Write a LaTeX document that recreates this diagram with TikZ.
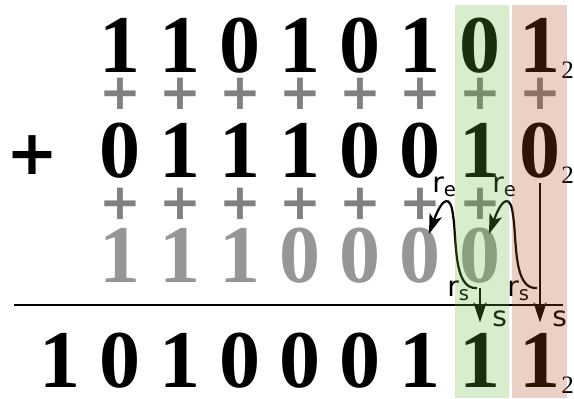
\documentclass[tikz,border=0pt]{standalone}
\usepackage{fontspec}
\usetikzlibrary{arrows.meta,positioning,calc}
\newfontfamily\digitfont{Liberation Serif}
\newfontfamily\labelfont{DejaVu Sans}
\definecolor{carrygray}{RGB}{150,150,150}
\definecolor{plusgray}{RGB}{128,128,128}
\definecolor{colgreen}{RGB}{100,185,62}
\definecolor{colred}{RGB}{177,77,31}
\tikzset{
  digit/.style = {inner sep=0pt, anchor=base, font=\digitfont\bfseries\fontsize{41}{44}\selectfont},
  carry/.style = {digit, text=carrygray},
  plus/.style = {inner sep=0pt, text=plusgray, font=\labelfont\bfseries\fontsize{25}{28}\selectfont},
  bigplus/.style = {inner sep=0pt, font=\labelfont\bfseries\fontsize{31}{34}\selectfont},
  radix/.style = {inner sep=0pt, anchor=base west, font=\digitfont\fontsize{12.5}{14}\selectfont},
  lbl/.style = {inner sep=0pt, anchor=base west, font=\labelfont\fontsize{14}{16}\selectfont},
  arrow/.style = {line width=1.1pt, -{Stealth[length=10pt, width=6.5pt, inset=2.5pt]}},
  rule/.style = {line width=1.4pt},
  column/.style = {fill opacity=0.26}
}
\begin{document}
\begin{tikzpicture}[x=0.5pt, y=-0.5pt]
\useasboundingbox (0,0) rectangle (574,398);

% operands, carries and sum
\foreach \d [count=\i] in {1,1,0,1,0,1,0,1}
  \node[digit] (a\i) at ({60+60*\i}, 72) {\d};
\foreach \d [count=\i] in {0,1,1,1,0,0,1,0}
  \node[digit] (b\i) at ({60+60*\i}, 177) {\d};
\foreach \d [count=\i] in {1,1,1,0,0,0,0}
  \node[carry] (c\i) at ({60+60*\i}, 282) {\d};
\foreach \d [count=\i] in {1,0,1,0,0,0,1,1,1}
  \node[digit] (s\i) at ({60*\i}, 387) {\d};

% gray pluses between the rows
\foreach \i in {1,...,8}
  \node[plus] (p\i) at ({60+60*\i}, 94) {+};
\foreach \i in {1,...,7}
  \node[plus] (q\i) at ({60+60*\i}, 204) {+};

\node[bigplus] (add) at (32,155) {+};

% base subscripts
\node[radix] (ra) at ($(a8.base)+(21,6)$) {2};
\node[radix] (rb) at ($(b8.base)+(21,6)$) {2};
\node[radix] (rs) at ($(s9.base)+(21,6)$) {2};

\draw[rule] (14,305) -- (563,305);

% sum and carry flow
\coordinate (start7) at (477,288);
\coordinate (start8) at (537,288);
\coordinate (end7) at (429,234);
\coordinate (end8) at (489,234);

\draw[arrow, shorten <=2.5pt, shorten >=5pt] (c7.south) -- (s8.north);
\draw[arrow, shorten <=2.5pt, shorten >=5pt] (b8.south) -- (s9.north);
\draw[arrow] (start7) .. controls (453,290) and (457,240) .. (453,215)
  .. controls (451,196) and (443,195) .. (end7);
\draw[arrow] (start8) .. controls (513,290) and (517,240) .. (513,215)
  .. controls (511,196) and (503,195) .. (end8);

\node[lbl] (re7) at (432,192) {r\textsubscript{e}};
\node[lbl] (re8) at (492,192) {r\textsubscript{e}};
\node[lbl] (rs7) at (447,296) {r\textsubscript{s}};
\node[lbl] (rs8) at (507,296) {r\textsubscript{s}};
\node[lbl] (sg) at ($(s8.north)+(12,-6)$) {s};
\node[lbl] (sr) at ($(s9.north)+(12,-6)$) {s};

% highlighted columns
\fill[colgreen, column] (455,5) rectangle (509,398);
\fill[colred, column] (512,5) rectangle (567,398);

\end{tikzpicture}
\end{document}
